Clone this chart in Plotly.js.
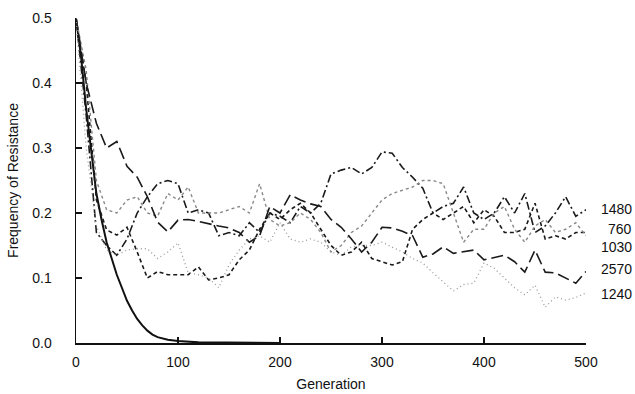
<!DOCTYPE html>
<html>
<head>
<meta charset="utf-8">
<script src="https://cdn.plot.ly/plotly-3.0.1.min.js"></script>
<style>html,body{margin:0;padding:0;background:#fff;}#chart{width:635px;height:394px;}</style>
</head>
<body>
<div id="chart"></div>
<script>
// Generations sampled for the simulated runs
const generations = [0,10,20,30,40,50,60,70,80,90,100,110,120,130,140,150,160,170,180,190,200,
  210,220,230,240,250,260,270,280,290,300,310,320,330,340,350,360,370,380,390,400,
  410,420,430,440,450,460,470,480,490,500];

// Deterministic (infinite population) curve
const detGen  = [0,5,10,15,20,25,30,35,40,45,50,55,60,65,70,75,80,90,100,120,150,200];
const detFreq = [0.5,0.44,0.36,0.29,0.23,0.19,0.155,0.13,0.105,0.085,0.065,0.05,0.037,0.027,0.019,0.013,0.009,0.005,0.003,0.001,0.0005,0];

const run1480 = [0.5,0.35,0.17,0.15,0.135,0.16,0.2,0.225,0.245,0.25,0.245,0.2,0.205,0.2,0.165,0.17,0.165,0.185,0.17,0.2,0.195,
  0.185,0.21,0.2,0.215,0.26,0.266,0.27,0.26,0.27,0.294,0.292,0.27,0.255,0.238,0.2,0.21,0.215,0.24,0.2,0.19,
  0.2,0.225,0.2,0.23,0.17,0.18,0.2,0.225,0.195,0.205];

const run760 = [0.5,0.4,0.22,0.174,0.166,0.178,0.14,0.1,0.11,0.105,0.105,0.105,0.117,0.097,0.1,0.105,0.128,0.143,0.175,0.2,0.19,
  0.205,0.215,0.2,0.175,0.15,0.135,0.14,0.155,0.13,0.125,0.12,0.125,0.175,0.19,0.2,0.19,0.2,0.21,0.185,0.205,
  0.195,0.17,0.17,0.175,0.215,0.16,0.165,0.16,0.17,0.17];

const run1030 = [0.5,0.42,0.25,0.205,0.2,0.22,0.225,0.2,0.195,0.23,0.22,0.24,0.2,0.2,0.2,0.205,0.21,0.2,0.245,0.19,0.18,
  0.185,0.2,0.19,0.17,0.14,0.15,0.17,0.18,0.2,0.22,0.23,0.235,0.24,0.25,0.25,0.245,0.2,0.155,0.175,0.175,
  0.2,0.21,0.175,0.155,0.18,0.19,0.17,0.175,0.185,0.165];

const run2570 = [0.5,0.40,0.338,0.30,0.31,0.272,0.255,0.225,0.186,0.171,0.189,0.19,0.187,0.183,0.18,0.177,0.17,0.155,0.165,0.21,0.2,
  0.228,0.22,0.214,0.21,0.19,0.178,0.16,0.14,0.155,0.178,0.177,0.172,0.165,0.132,0.137,0.148,0.138,0.14,0.143,0.128,
  0.132,0.135,0.125,0.109,0.143,0.109,0.108,0.1,0.092,0.11];

const run1240 = [0.5,0.3,0.18,0.143,0.135,0.143,0.145,0.145,0.13,0.14,0.154,0.108,0.105,0.1,0.085,0.12,0.143,0.16,0.165,0.155,0.185,
  0.16,0.155,0.16,0.155,0.14,0.135,0.148,0.15,0.15,0.155,0.148,0.14,0.13,0.123,0.108,0.094,0.08,0.09,0.092,0.123,
  0.115,0.1,0.085,0.074,0.089,0.055,0.071,0.066,0.07,0.077];

const runLabels = ["1480","760","1030","2570","1240"];
const labelY    = [0.206,0.175,0.148,0.114,0.075];

const FONT = "Liberation Sans, Arial, Helvetica, sans-serif";

const traces = [
  {x: detGen, y: detFreq, mode: "lines", line: {color: "#111", width: 2, dash: "solid"}, name: "deterministic"},
  {x: generations, y: run1480, mode: "lines", line: {color: "#1a1a1a", width: 1.6, dash: "8px,3px,2px,3px"}, name: runLabels[0]},
  {x: generations, y: run760,  mode: "lines", line: {color: "#1a1a1a", width: 1.6, dash: "4px,3px"}, name: runLabels[1]},
  {x: generations, y: run1030, mode: "lines", line: {color: "#888", width: 1.4, dash: "dot"}, name: runLabels[2]},
  {x: generations, y: run2570, mode: "lines", line: {color: "#1a1a1a", width: 1.6, dash: "12px,5px"}, name: runLabels[3]},
  {x: generations, y: run1240, mode: "lines", line: {color: "#999", width: 1.3, dash: "1px,3px"}, name: runLabels[4]}
];

const annotations = runLabels.map((t, i) => ({
  text: t, xref: "paper", yref: "y", x: 1.094, y: labelY[i],
  xanchor: "right", yanchor: "middle", showarrow: false,
  font: {family: FONT, size: 14, color: "#111"}
}));

const layout = {
  width: 635, height: 394,
  margin: {l: 76, r: 49, t: 18, b: 51},
  paper_bgcolor: "#fff", plot_bgcolor: "#fff",
  showlegend: false,
  font: {family: FONT, size: 14, color: "#111"},
  xaxis: {
    range: [0, 500], tickvals: [0,100,200,300,400,500],
    ticks: "inside", ticklen: 6, tickwidth: 1.3, tickcolor: "#111",
    showline: true, linecolor: "#111", linewidth: 1.5,
    showgrid: false, zeroline: false,
    tickfont: {family: FONT, size: 14, color: "#111"},
    ticklabelstandoff: 6,
    title: {text: "Generation", font: {family: FONT, size: 14, color: "#111"}, standoff: 10}
  },
  yaxis: {
    range: [0, 0.5], tickvals: [0,0.1,0.2,0.3,0.4,0.5], tickformat: ".1f",
    ticks: "inside", ticklen: 6, tickwidth: 1.3, tickcolor: "#111",
    showline: true, linecolor: "#111", linewidth: 1.5,
    showgrid: false, zeroline: false,
    tickfont: {family: FONT, size: 14, color: "#111"},
    ticklabelstandoff: 20,
    title: {text: "Frequency of Resistance", font: {family: FONT, size: 14, color: "#111"}, standoff: 10}
  },
  annotations: annotations
};

Plotly.newPlot("chart", traces, layout, {staticPlot: true, displayModeBar: false});
</script>
</body>
</html>
